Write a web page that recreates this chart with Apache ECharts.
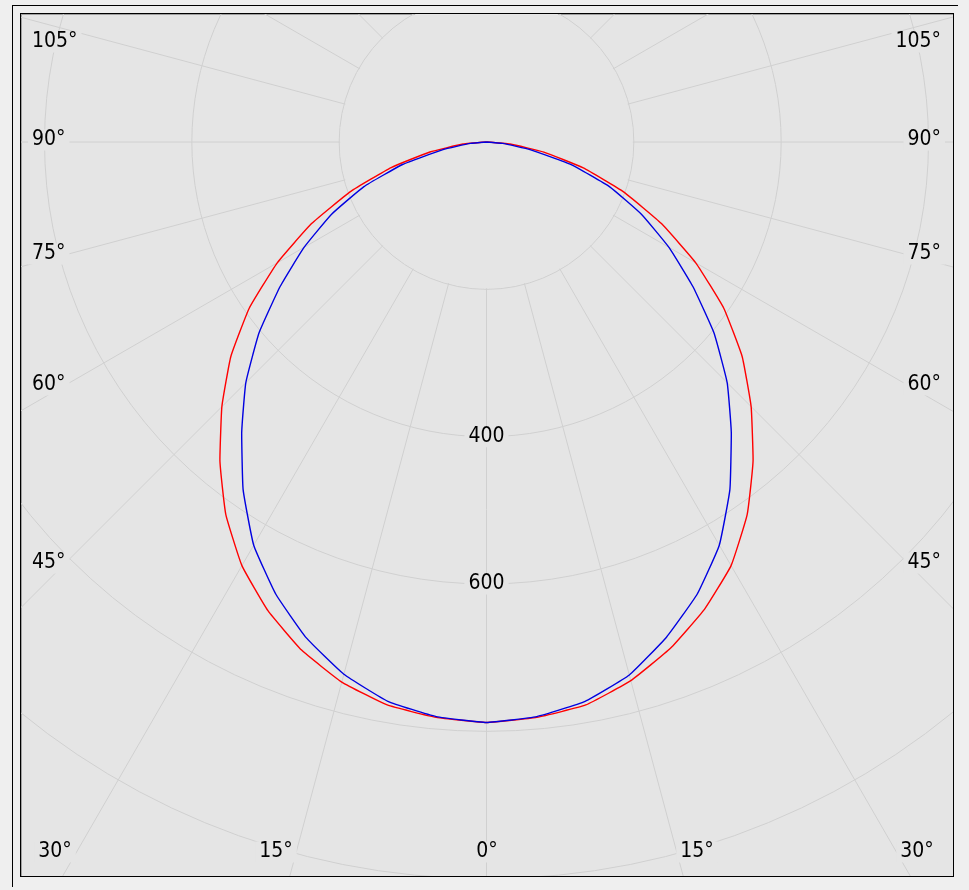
<!DOCTYPE html>
<html>
<head>
<meta charset="utf-8">
<script src="https://cdn.jsdelivr.net/npm/echarts@6/dist/echarts.min.js"></script>
<style>
html,body{margin:0;padding:0;background:#efefef;width:969px;height:890px;overflow:hidden;}
#topline{position:absolute;left:12px;top:5px;width:946px;height:1px;background:#000;}
#leftline{position:absolute;left:12px;top:5px;width:1px;height:882px;background:#000;}
#frame{position:absolute;left:20px;top:13px;width:932px;height:862px;border:1px solid #000;background:#e5e5e5;box-shadow:inset 1px 1px 0 #a0a0a0;}
#chart{position:absolute;left:0;top:0;width:932px;height:862px;}
</style>
</head>
<body>
<div id="topline"></div>
<div id="leftline"></div>
<div id="frame"><div id="chart"></div></div>
<script>
// ---- data (luminous intensity, cd/klm) ----
const gammaDeg   = [0, 5, 10, 15, 20, 25, 30, 35, 40, 45, 50, 55, 60, 65, 70, 75, 80, 85, 90];
const redLeft    = [788, 784, 776, 759, 734, 702, 664, 617, 563, 508, 453, 393, 328, 262, 196, 134, 78, 32, 0];
const redRight   = [788, 784, 776, 757, 731, 700, 664, 617, 563, 508, 453, 393, 328, 262, 198, 136, 79, 32, 0];
const blueLeft   = [788, 783, 771, 748, 716, 677, 632, 576, 517, 462, 403, 342, 286, 232, 177, 118, 60, 22, 0];
const blueRight  = [788, 783, 771, 749, 715, 677, 632, 576, 517, 462, 403, 342, 286, 232, 178, 119, 60, 22, 0];
// ---- axis ticks / labels ----
const radiusMax = 1200;
const radiusStep = 200;
const angleStep = 15;
const radiusLabels = [400, 600];
const sideAngleLabels = ['105°', '90°', '75°', '60°', '45°'];
const bottomAngleLabels = ['30°', '15°', '0°', '15°', '30°'];

const BG = '#e5e5e5';
const GRID = '#d0d0d0';
const FONT = '21px "DejaVu Sans Condensed", "DejaVu Sans", sans-serif';

function curve(left, right) {
  const pts = [];
  for (let i = gammaDeg.length - 1; i >= 0; i--) pts.push([left[i], (360 - gammaDeg[i]) % 360]);
  for (let i = 1; i < gammaDeg.length; i++) pts.push([right[i], gammaDeg[i]]);
  return pts;
}

const chart = echarts.init(document.getElementById('chart'), null, {renderer: 'canvas'});
chart.setOption({
  animation: false,
  backgroundColor: 'transparent',
  polar: {center: [465.5, 128], radius: 884},
  angleAxis: {
    type: 'value', min: 0, max: 360, interval: angleStep,
    startAngle: 270, clockwise: false, z: 0,
    axisLine: {show: false}, axisTick: {show: false}, axisLabel: {show: false},
    splitLine: {show: true, lineStyle: {color: GRID, width: 1}}
  },
  radiusAxis: {
    type: 'value', min: 0, max: radiusMax, interval: radiusStep, z: 0,
    axisLine: {show: false}, axisTick: {show: false}, axisLabel: {show: false},
    splitLine: {show: true, lineStyle: {color: GRID, width: 1}}
  },
  series: [
    {type: 'line', coordinateSystem: 'polar', data: curve(redLeft, redRight), smooth: 0.12,
     symbol: 'none', showSymbol: false, z: 5, lineStyle: {color: '#ff0000', width: 1.4}},
    {type: 'line', coordinateSystem: 'polar', data: curve(blueLeft, blueRight), smooth: 0.12,
     symbol: 'none', showSymbol: false, z: 6, lineStyle: {color: '#0000e0', width: 1.4}}
  ]
});

const c0 = chart.convertToPixel({seriesIndex: 0}, [0, 0]);
const pInner = chart.convertToPixel({seriesIndex: 0}, [radiusStep, 0]);
const rInner = Math.hypot(pInner[0] - c0[0], pInner[1] - c0[1]);

function label(text, x, y, align) {
  return {
    type: 'text', x: x, y: y, z: 3, silent: true,
    style: {
      text: text, font: FONT, fill: '#000',
      align: align, textAlign: align,
      verticalAlign: 'middle', textVerticalAlign: 'middle',
      backgroundColor: BG, padding: [0, 4]
    }
  };
}

const els = [];
els.push({type: 'circle', z: 1, silent: true,
  shape: {cx: c0[0], cy: c0[1], r: rInner - 1}, style: {fill: BG, stroke: null}});
radiusLabels.forEach(v => {
  const p = chart.convertToPixel({seriesIndex: 0}, [v, 0]);
  els.push(label(String(v), p[0], p[1], 'center'));
});
const sideY = [28, 126, 240, 371, 549];
sideAngleLabels.forEach((t, i) => {
  els.push(label(t, 7, sideY[i], 'left'));
  els.push(label(t, 924, sideY[i], 'right'));
});
const bottomX = [34, 255, 466, 676, 896];
bottomAngleLabels.forEach((t, i) => els.push(label(t, bottomX[i], 838, 'center')));

chart.setOption({graphic: {elements: els}});
</script>
</body>
</html>
